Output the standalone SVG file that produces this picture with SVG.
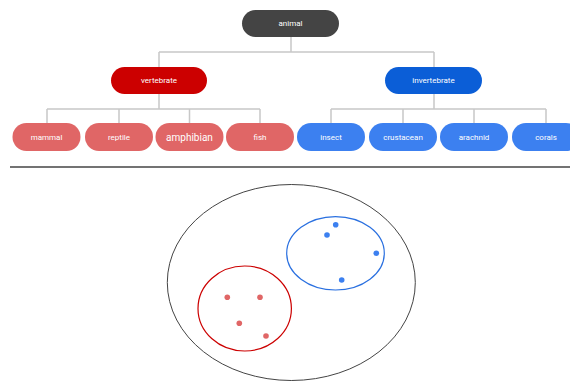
<svg xmlns="http://www.w3.org/2000/svg" width="570" height="381" viewBox="0 0 570 381">
  <style>
    .lbl { font-family: Roboto, "Liberation Sans", sans-serif; font-size: 8px; fill: #ffffff; text-anchor: middle; dominant-baseline: central; }
    .big { font-size: 10px; }
    .edge { fill: none; stroke: #c8c8c8; stroke-width: 1.5; }
    .root { fill: #444444; }
    .vert { fill: #cc0000; }
    .invt { fill: #0b5ed7; }
    .leafR { fill: #e06666; }
    .leafB { fill: #3c80f0; }
    .dotR { fill: #e06666; }
    .dotB { fill: #3c80f0; }
  </style>

  <!-- tree connectors -->
  <g id="connectors">
    <path class="edge" d="M291 37 V52 M159 52 H434 M159 52 V67 M434 52 V67"/>
    <path class="edge" d="M159 94 V109 M47 109 H260 M47 109 V123 M119 109 V123 M189.5 109 V123 M260 109 V123"/>
    <path class="edge" d="M434 94 V109 M331 109 H546 M331 109 V123 M403 109 V123 M474 109 V123 M546 109 V123"/>
  </g>

  <g id="animal">
    <rect class="root" x="242" y="10" width="97" height="27" rx="13.5"/>
    <text class="lbl" x="290.5" y="23.5">animal</text>
  </g>
  <g id="vertebrate">
    <rect class="vert" x="111" y="67" width="96" height="27" rx="13.5"/>
    <text class="lbl" x="159" y="80.5">vertebrate</text>
  </g>
  <g id="invertebrate">
    <rect class="invt" x="385" y="67" width="97" height="27" rx="13.5"/>
    <text class="lbl" x="433.5" y="80.5">invertebrate</text>
  </g>

  <g id="mammal">
    <rect class="leafR" x="12.5" y="123" width="68" height="28" rx="14"/>
    <text class="lbl" x="46.5" y="137">mammal</text>
  </g>
  <g id="reptile">
    <rect class="leafR" x="85" y="123" width="68" height="28" rx="14"/>
    <text class="lbl" x="119" y="137">reptile</text>
  </g>
  <g id="amphibian">
    <rect class="leafR" x="155.5" y="123" width="68" height="28" rx="14"/>
    <text class="lbl big" x="189.5" y="137">amphibian</text>
  </g>
  <g id="fish">
    <rect class="leafR" x="226" y="123" width="68" height="28" rx="14"/>
    <text class="lbl" x="260" y="137">fish</text>
  </g>
  <g id="insect">
    <rect class="leafB" x="297" y="123" width="68" height="28" rx="14"/>
    <text class="lbl" x="331" y="137">insect</text>
  </g>
  <g id="crustacean">
    <rect class="leafB" x="369" y="123" width="68" height="28" rx="14"/>
    <text class="lbl" x="403" y="137">crustacean</text>
  </g>
  <g id="arachnid">
    <rect class="leafB" x="440" y="123" width="68" height="28" rx="14"/>
    <text class="lbl" x="474" y="137">arachnid</text>
  </g>
  <g id="corals">
    <rect class="leafB" x="512" y="123" width="68" height="28" rx="14"/>
    <text class="lbl" x="546" y="137">corals</text>
  </g>

  <!-- divider -->
  <line x1="10" y1="167" x2="570" y2="167" stroke="#444444" stroke-width="1.5"/>

  <!-- set view -->
  <g id="sets">
    <ellipse cx="291.3" cy="282.5" rx="124" ry="98" fill="none" stroke="#444444" stroke-width="1"/>
    <ellipse cx="335.5" cy="253.3" rx="48.8" ry="36.7" fill="none" stroke="#2a70e0" stroke-width="1.2"/>
    <ellipse cx="244.7" cy="308.5" rx="46.7" ry="42.5" fill="none" stroke="#cc0000" stroke-width="1.2"/>
    <circle class="dotB" cx="335.7" cy="224.7" r="2.8"/>
    <circle class="dotB" cx="327" cy="235" r="2.8"/>
    <circle class="dotB" cx="376.3" cy="253.3" r="2.8"/>
    <circle class="dotB" cx="341.7" cy="280" r="2.8"/>
    <circle class="dotR" cx="227.3" cy="297.3" r="2.8"/>
    <circle class="dotR" cx="260" cy="297.3" r="2.8"/>
    <circle class="dotR" cx="239.3" cy="323.3" r="2.8"/>
    <circle class="dotR" cx="266" cy="336" r="2.8"/>
  </g>
</svg>
